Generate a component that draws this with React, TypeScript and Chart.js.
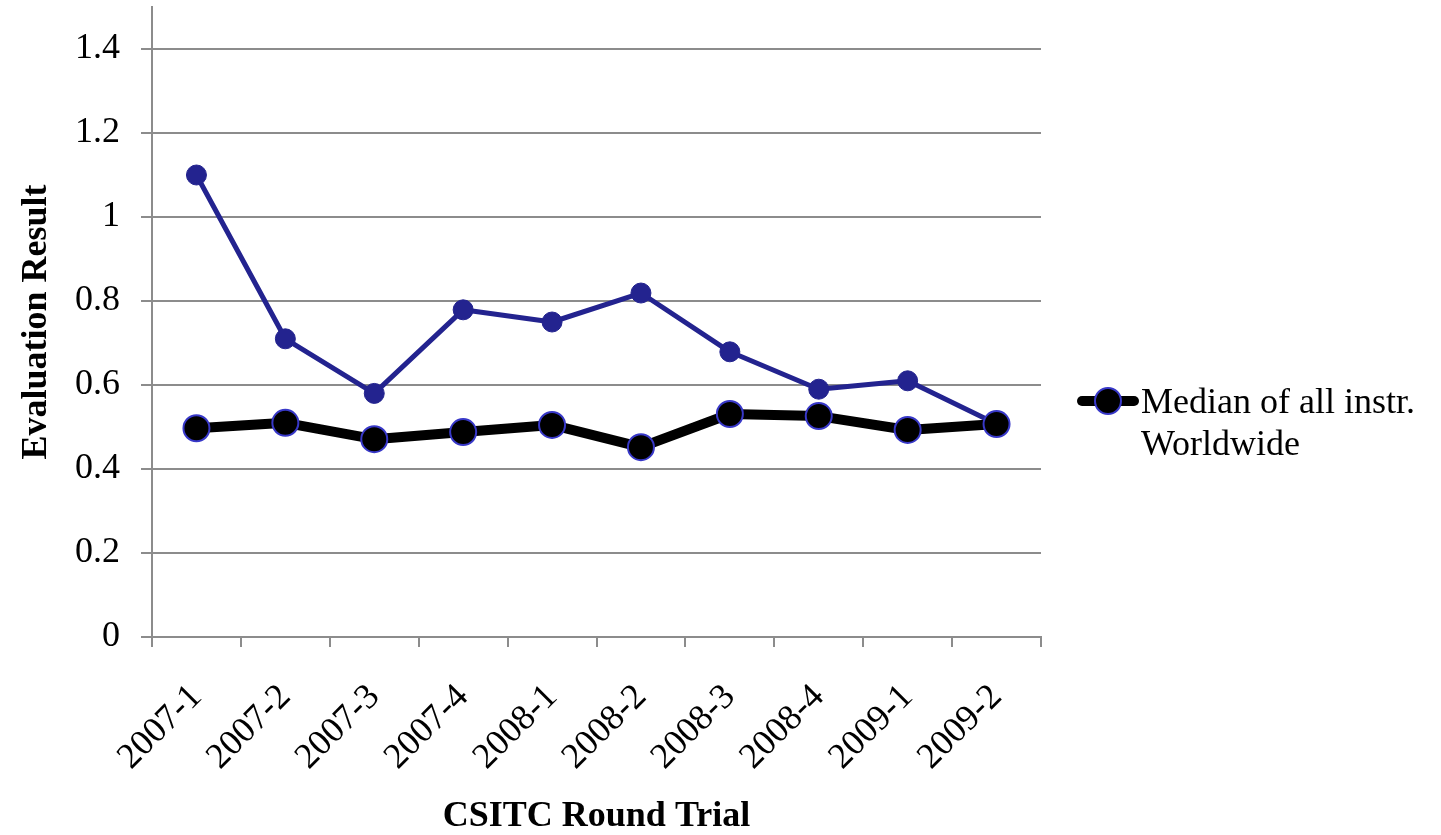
import React, { useEffect, useRef } from 'react';
import { Chart, registerables } from 'chart.js';

Chart.register(...registerables);

const categories = ['2007-1', '2007-2', '2007-3', '2007-4', '2008-1', '2008-2', '2008-3', '2008-4', '2009-1', '2009-2'];
const medianWorldwide = [0.497, 0.51, 0.471, 0.488, 0.505, 0.452, 0.531, 0.526, 0.493, 0.507];
const instrumentResult = [1.1, 0.71, 0.58, 0.779, 0.75, 0.819, 0.679, 0.59, 0.61, 0.507];
const medianLabel = ['Median of all instr.', 'Worldwide'];
const xTitle = 'CSITC Round Trial';
const yTitle = 'Evaluation Result';

const FONT = "'Liberation Serif', 'Times New Roman', serif";
const GRID = '#8c8c8c';
const BLUE = '#23238f';
const MARKER_EDGE = '#3838c8';

export default function App() {
  const ref = useRef<HTMLCanvasElement>(null);
  useEffect(() => {
    document.body.style.margin = '0';
    const legendPlugin = {
      id: 'customLegend',
      afterDraw(chart: any) {
        const ctx = chart.ctx;
        ctx.save();
        ctx.lineCap = 'round';
        ctx.strokeStyle = '#000';
        ctx.lineWidth = 10;
        ctx.beginPath();
        ctx.moveTo(1082, 401);
        ctx.lineTo(1134, 401);
        ctx.stroke();
        ctx.beginPath();
        ctx.arc(1108, 401, 13, 0, Math.PI * 2);
        ctx.fillStyle = '#000';
        ctx.fill();
        ctx.lineWidth = 2;
        ctx.strokeStyle = MARKER_EDGE;
        ctx.stroke();
        ctx.fillStyle = '#000';
        ctx.font = `36px ${FONT}`;
        ctx.textAlign = 'left';
        ctx.textBaseline = 'alphabetic';
        ctx.fillText(medianLabel[0], 1141, 413);
        ctx.fillText(medianLabel[1], 1141, 455);
        ctx.restore();
      },
    };
    const chart = new Chart(ref.current!, {
      type: 'line',
      data: {
        labels: categories,
        datasets: [
          {
            label: medianLabel.join(' '),
            data: medianWorldwide,
            borderColor: '#000',
            borderWidth: 10,
            borderJoinStyle: 'round',
            pointBackgroundColor: '#000',
            pointBorderColor: MARKER_EDGE,
            pointBorderWidth: 2,
            pointRadius: 13,
            order: 0,
          },
          {
            label: 'Instrument',
            data: instrumentResult,
            borderColor: BLUE,
            borderWidth: 5,
            borderJoinStyle: 'round',
            pointBackgroundColor: BLUE,
            pointBorderColor: BLUE,
            pointBorderWidth: 1,
            pointRadius: 10,
            order: 1,
          },
        ],
      },
      options: {
        responsive: false,
        animation: false,
        layout: { autoPadding: false, padding: { left: 0, top: 7, right: 400, bottom: 0 } },
        plugins: { legend: { display: false }, tooltip: { enabled: false } },
        scales: {
          x: {
            type: 'category',
            offset: true,
            grid: { offset: true, drawOnChartArea: false, drawTicks: true, tickLength: 10, color: GRID, lineWidth: 2 },
            border: { display: true, color: GRID, width: 2 },
            ticks: { font: { family: FONT, size: 36 }, color: '#000', minRotation: 45, maxRotation: 45, padding: 29, autoSkip: false },
            title: { display: true, text: xTitle, font: { family: FONT, size: 36, weight: 'bold', lineHeight: 1.0 }, color: '#000', padding: 0 },
            afterFit(scale: any) {
              scale.height = 198;
              scale.paddingLeft = 0;
              scale.paddingRight = 0;
            },
          },
          y: {
            min: 0,
            max: 1.5,
            ticks: {
              stepSize: 0.2,
              autoSkip: false,
              font: { family: FONT, size: 36 },
              color: '#000',
              padding: 21,
              callback: (v: any) => (v > 1.45 ? '' : String(Number(Number(v).toFixed(1)))),
            },
            grid: {
              color: (c: any) => (c.tick && c.tick.value > 1.45 ? 'rgba(0,0,0,0)' : GRID),
              lineWidth: 2,
              tickLength: 11,
            },
            border: { display: true, color: GRID, width: 2 },
            title: { display: true, text: yTitle, font: { family: FONT, size: 36, weight: 'bold' }, color: '#000', padding: { top: 15, bottom: 0 } },
            afterFit(scale: any) {
              scale.width = 152;
              scale.paddingTop = 0;
              scale.paddingBottom = 0;
            },
          },
        },
      },
      plugins: [legendPlugin],
    });
    return () => chart.destroy();
  }, []);
  return (
    <div style={{ width: 1441, height: 835 }}>
      <canvas ref={ref} width={1441} height={835} />
    </div>
  );
}
